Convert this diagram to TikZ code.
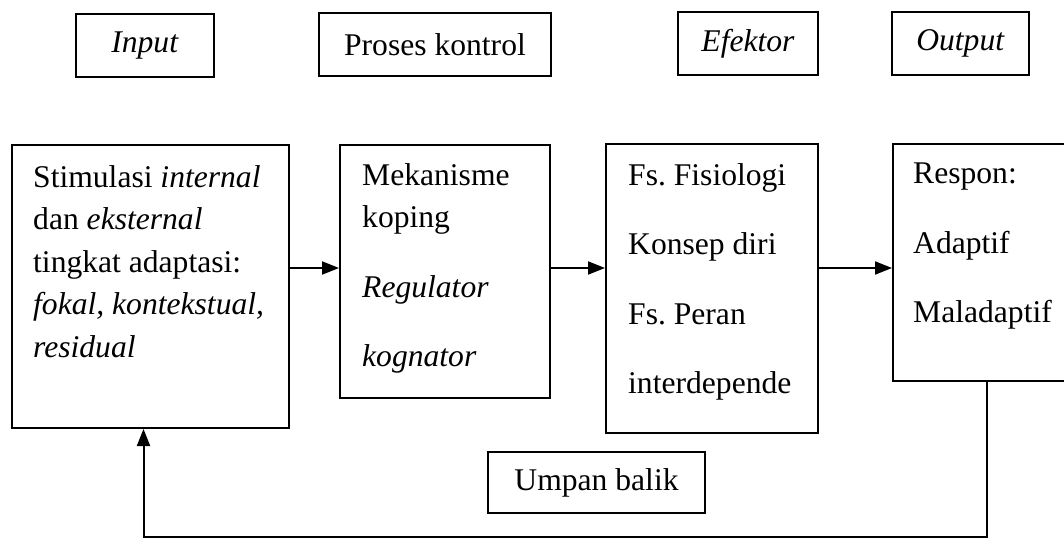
\documentclass[tikz,border=0pt]{standalone}
\usepackage{fontspec}
\setmainfont{Liberation Serif}
\usetikzlibrary{arrows.meta}

\begin{document}
\begin{tikzpicture}[
    x=1pt, y=-1pt,
    box/.style={rectangle, draw, line width=2pt, inner sep=0pt},
    title/.style={font=\fontsize{31.6}{38}\selectfont},
    txt/.style={anchor=north west, inner sep=0pt, align=left, font=\fontsize{31.6}{42.5}\selectfont},
    arrow/.style={-{Triangle[length=17pt,width=13pt]}, line width=2pt}
]
\clip (0,0) rectangle (1064,539);

% Judul kolom
\node[box, title, minimum width=138pt, minimum height=63pt] (input) at (145,45.5) {\textit{Input}};
\node[box, title, minimum width=232pt, minimum height=63pt] (proses) at (435,44.5) {Proses kontrol};
\node[box, title, minimum width=140pt, minimum height=63pt] (efektor) at (748,43.5) {\textit{Efektor}};
\node[box, title, minimum width=137pt, minimum height=63pt] (output) at (960.5,43.5) {\textit{Output}};

% Kotak utama
\node[box, minimum width=277pt, minimum height=283pt] (stimulasi) at (150.5,286.5) {};
\node[box, minimum width=210pt, minimum height=253pt] (mekanisme) at (445,271.5) {};
\node[box, minimum width=212pt, minimum height=289pt] (fungsi) at (712,288.5) {};
\node[box, minimum width=187pt, minimum height=237pt] (respon) at (986.5,262.5) {};

% Isi kotak
\node[txt] (stimtxt) at (33,165) {Stimulasi \textit{internal}\\dan \textit{eksternal}\\tingkat adaptasi:\\\textit{fokal, kontekstual,}\\\textit{residual}};
\node[txt] (mektxt) at (362,163) {Mekanisme\\koping\\[27pt]\textit{Regulator}\\[27pt]\textit{kognator}};
\node[txt] (fstxt) at (628,163) {Fs.\ Fisiologi\\[27pt]Konsep diri\\[27pt]Fs.\ Peran\\[27pt]interdepende};
\node[txt] (restxt) at (913,163) {Respon:\\[27pt]Adaptif\\[27pt]Maladaptif};

% Umpan balik
\node[box, title, minimum width=217pt, minimum height=61pt] (umpan) at (596.5,482.5) {Umpan balik};

% Panah
\coordinate (alur) at (0,268);
\draw[arrow] (stimulasi.east |- alur) -- (mekanisme.west |- alur);
\draw[arrow] (mekanisme.east |- alur) -- (fungsi.west |- alur);
\draw[arrow] (fungsi.east |- alur) -- (respon.west |- alur);
\draw[arrow] (respon.south) -- ++(0,155) -| ([xshift=-7pt]stimulasi.south);

\end{tikzpicture}
\end{document}
